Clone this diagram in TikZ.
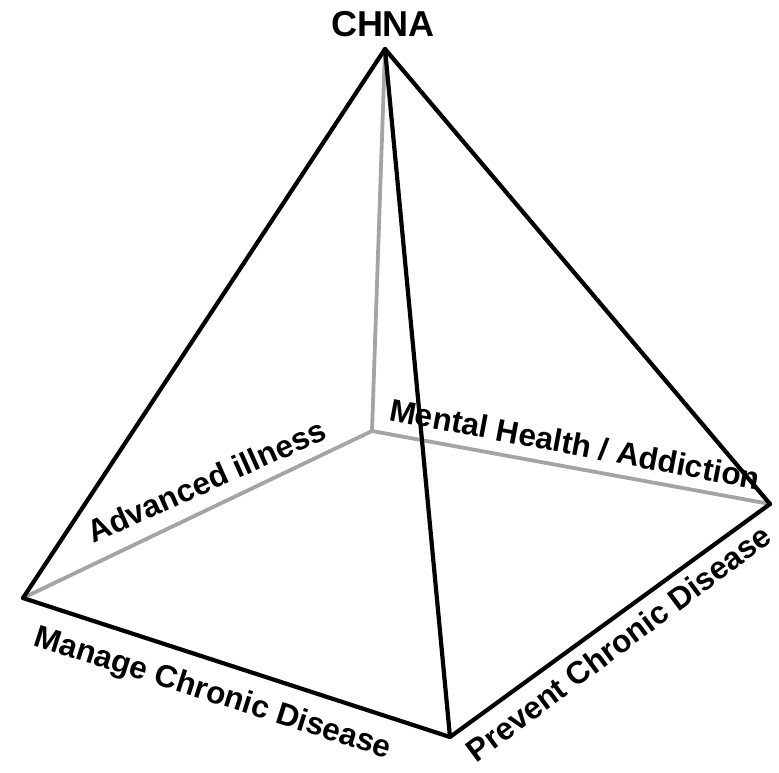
\documentclass[tikz,border=0pt]{standalone}
\usepackage{fontspec}
\setmainfont{Liberation Sans}
\usepackage{xcolor}
\usetikzlibrary{positioning}
\definecolor{backgray}{HTML}{A4A4A4}

\begin{document}
\begin{tikzpicture}[x=1pt,y=-1pt,
    front/.style={line width=4.2pt,black,line join=round,line cap=round},
    hidden/.style={line width=3.8pt,backgray,line join=round,line cap=round},
    lbl/.style={font=\bfseries\fontsize{31.5}{37}\selectfont,inner sep=0pt,anchor=base}]
  \useasboundingbox (0,0) rectangle (779,772);
  % corners of the pyramid
  \coordinate (apex) at (385,49);
  \coordinate (left) at (23,598);
  \coordinate (near) at (450,737);
  \coordinate (right) at (770,504);
  \coordinate (back) at (372,431);
  % hidden edges first
  \draw[hidden] (apex)--(back);
  \draw[hidden] (left)--(back)--(right);
  % visible edges
  \draw[front] (left)--(apex)--(right);
  \draw[front] (apex)--(near);
  \draw[front] (left)--(near)--(right);
  % labels
  \node[font=\bfseries\fontsize{36}{42}\selectfont,inner sep=0pt,anchor=base] (top) at (383,36) {CHNA};
  \node[lbl,rotate=24] (adv) at (211,491) {Advanced illness};
  \node[lbl,rotate=-10.7] (mental) at (573,455) {Mental Health / Addiction};
  \node[lbl,rotate=-17.6] (manage) at (210,702) {Manage Chronic Disease};
  \node[lbl,rotate=36.8] (prevent) at (625,652) {Prevent Chronic Disease};
\end{tikzpicture}
\end{document}
